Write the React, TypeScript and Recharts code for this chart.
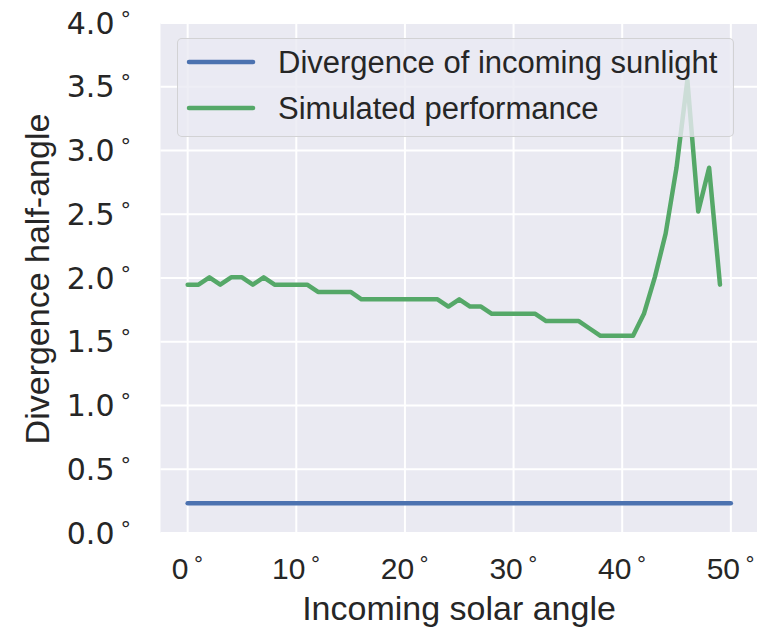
import React from "react";
import {
  LineChart,
  Line,
  XAxis,
  YAxis,
  CartesianGrid,
  Legend,
} from "recharts";

// Incoming solar angle (degrees)
const angles = [
  0, 1, 2, 3, 4, 5, 6, 7, 8, 9, 10, 11, 12, 13, 14, 15, 16, 17, 18, 19, 20,
  21, 22, 23, 24, 25, 26, 27, 28, 29, 30, 31, 32, 33, 34, 35, 36, 37, 38, 39,
  40, 41, 42, 43, 44, 45, 46, 47, 48, 49, 50,
];

// Simulated divergence half-angle (degrees), one value per angle 0..49
const simulated = [
  1.948, 1.948, 2.005, 1.948, 2.005, 2.005, 1.948, 2.005, 1.948, 1.948, 1.948,
  1.948, 1.891, 1.891, 1.891, 1.891, 1.833, 1.833, 1.833, 1.833, 1.833, 1.833,
  1.833, 1.833, 1.776, 1.833, 1.776, 1.776, 1.719, 1.719, 1.719, 1.719, 1.719,
  1.662, 1.662, 1.662, 1.662, 1.604, 1.547, 1.547, 1.547, 1.547, 1.719, 2.005,
  2.349, 2.865, 3.552, 2.521, 2.865, 1.948,
];

// Divergence of incoming sunlight (degrees), constant over all angles
const sunlightDivergence = 0.234;

const xTicks = [0, 10, 20, 30, 40, 50];
const yTicks = [0, 0.5, 1, 1.5, 2, 2.5, 3, 3.5, 4];

const seriesNames = ["Divergence of incoming sunlight", "Simulated performance"];
const seriesColors = ["#4C72B0", "#55A868"];

const rows = angles.map((a, i) => ({
  angle: a,
  sunlight: sunlightDivergence,
  simulated: simulated[i],
}));

const TEXT = "#262626";
const SANS = "'Liberation Sans', Arial, sans-serif";
const MATH = "'DejaVu Sans', sans-serif";
const LINE_W = 4.5;

const YTick = (props: any) => {
  const { y, payload } = props;
  return (
    <text
      x={131}
      y={y + 10.5}
      textAnchor="end"
      fill={TEXT}
      fontFamily={MATH}
      fontSize={30}
    >
      {Number(payload.value).toFixed(1)}
      <tspan dx={6} dy={-7} fontSize={21}>
        °
      </tspan>
    </text>
  );
};

const XTick = (props: any) => {
  const { x, payload } = props;
  return (
    <text
      x={x}
      y={579}
      textAnchor="middle"
      fill={TEXT}
      fontFamily={SANS}
      fontSize={30}
    >
      {payload.value}
      <tspan dx={5} dy={-8} fontFamily={MATH} fontSize={20}>
        °
      </tspan>
    </text>
  );
};

const XTitle = () => (
  <text
    x={459}
    y={620}
    textAnchor="middle"
    fill={TEXT}
    fontFamily={SANS}
    fontSize={34}
  >
    Incoming solar angle
  </text>
);

const YTitle = () => (
  <text
    x={0}
    y={0}
    transform="translate(49,279) rotate(-90)"
    textAnchor="middle"
    fill={TEXT}
    fontFamily={SANS}
    fontSize={34}
  >
    Divergence half-angle
  </text>
);

const LegendBox = () => (
  <div
    style={{
      width: 557,
      height: 99,
      boxSizing: "border-box",
      background: "rgba(234,234,242,0.8)",
      border: "1px solid rgba(204,204,204,0.8)",
      borderRadius: 5,
    }}
  >
    <svg width={555} height={97} style={{ display: "block" }}>
      {seriesNames.map((name, i) => (
        <g key={name}>
          <line
            x1={11}
            x2={75}
            y1={23 + i * 46}
            y2={23 + i * 46}
            stroke={seriesColors[i]}
            strokeWidth={LINE_W}
            strokeLinecap="round"
          />
          <text
            x={100}
            y={34 + i * 46}
            fill={TEXT}
            fontFamily={SANS}
            fontSize={31}
          >
            {name}
          </text>
        </g>
      ))}
    </svg>
  </div>
);

export default function App() {
  return (
    <div
      style={{
        position: "absolute",
        left: 0,
        top: 0,
        width: 757,
        height: 633,
        overflow: "hidden",
        background: "#ffffff",
      }}
    >
      <LineChart
        width={770}
        height={633}
        data={rows}
        margin={{ top: 23, right: 12, bottom: 0, left: 0 }}
      >
        <CartesianGrid
          fill="#EAEAF2"
          stroke="#ffffff"
          strokeWidth={2}
          horizontalValues={yTicks}
          verticalValues={xTicks}
        />
        <XAxis
          dataKey="angle"
          type="number"
          domain={[-2.5, 52.5]}
          ticks={xTicks}
          allowDataOverflow
          height={100}
          axisLine={false}
          tickLine={false}
          tickSize={0}
          tick={<XTick />}
          label={<XTitle />}
          interval={0}
        />
        <YAxis
          type="number"
          domain={[0, 4]}
          ticks={yTicks}
          allowDataOverflow
          width={160.5}
          axisLine={false}
          tickLine={false}
          tickSize={0}
          tick={<YTick />}
          label={<YTitle />}
          interval={0}
        />
        <Line
          dataKey="sunlight"
          name={seriesNames[0]}
          stroke={seriesColors[0]}
          strokeWidth={LINE_W}
          strokeLinecap="round"
          strokeLinejoin="round"
          dot={false}
          activeDot={false}
          isAnimationActive={false}
        />
        <Line
          dataKey="simulated"
          name={seriesNames[1]}
          stroke={seriesColors[1]}
          strokeWidth={LINE_W}
          strokeLinecap="round"
          strokeLinejoin="round"
          dot={false}
          activeDot={false}
          isAnimationActive={false}
        />
        <Legend
          layout="vertical"
          align="center"
          verticalAlign="middle"
          content={<LegendBox />}
          wrapperStyle={{ left: 177, top: 38, width: 557, height: 99 }}
        />
      </LineChart>
    </div>
  );
}
